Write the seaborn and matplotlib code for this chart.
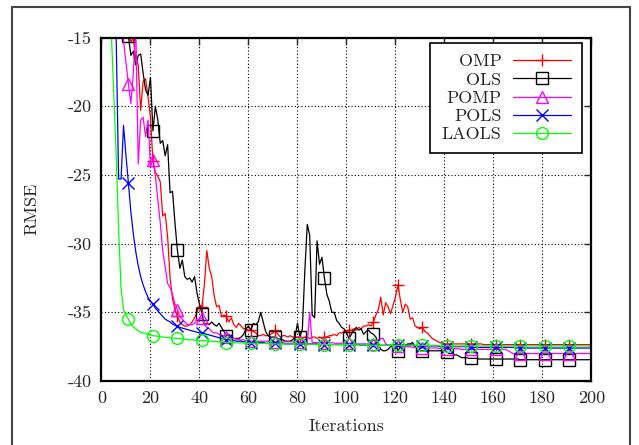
import matplotlib
matplotlib.use("Agg")
import matplotlib.pyplot as plt
import seaborn as sns
from matplotlib.patches import Rectangle

# iteration index (1..200)
iterations = list(range(1, 201))

omp = [
    -2.0, -4.5, -6.5, -8.0, -9.5, -10.5, -11.5, -12.5, -13.3, -14.0,
    -14.6, -15.3, -15.1, -16.5, -17.0, -20.3, -18.2, -18.0, -19.3, -20.8,
    -24.0, -24.8, -25.1, -25.5, -28.0, -27.8, -29.5, -32.5, -34.0, -34.8,
    -35.3, -35.7, -35.9, -36.0, -36.0, -35.9, -35.7, -35.4, -35.0, -34.5,
    -34.6, -33.0, -30.5, -31.8, -32.4, -33.8, -34.6, -34.5, -35.3, -35.2,
    -35.3, -35.7, -35.4, -35.9, -36.1, -35.8, -36.0, -36.2, -36.2, -36.3,
    -36.3, -36.4, -36.5, -36.7, -36.7, -36.6, -36.7, -36.7, -36.6, -36.5,
    -36.3, -36.6, -36.8, -36.7, -36.7, -36.8, -36.7, -36.8, -36.8, -36.8,
    -36.8, -36.9, -36.8, -36.8, -36.9, -36.8, -36.8, -36.9, -36.8, -36.9,
    -36.8, -36.8, -36.7, -36.7, -36.6, -36.7, -36.5, -36.5, -36.4, -36.5,
    -36.3, -36.3, -36.2, -36.3, -36.1, -36.2, -36.0, -36.0, -35.9, -36.0,
    -35.7, -35.2, -34.8, -33.9, -35.2, -34.3, -34.6, -35.1, -34.5, -33.9,
    -33.0, -34.1, -35.0, -34.4, -34.6, -35.5, -35.4, -36.0, -36.1, -36.2,
    -36.1, -36.4, -36.5, -36.7, -36.9, -37.0, -37.1, -37.2, -37.25, -37.3,
    -37.3, -37.3, -37.3, -37.3, -37.3, -37.3, -37.3, -37.3, -37.3, -37.3,
    -37.3, -37.3, -37.3, -37.3, -37.3, -37.35, -37.35, -37.35, -37.35, -37.35,
    -37.35, -37.35, -37.35, -37.35, -37.35, -37.35, -37.35, -37.35, -37.35, -37.35,
    -37.35, -37.35, -37.35, -37.35, -37.35, -37.35, -37.35, -37.35, -37.35, -37.35,
    -37.35, -37.35, -37.35, -37.35, -37.35, -37.35, -37.35, -37.35, -37.35, -37.35,
    -37.35, -37.35, -37.35, -37.35, -37.35, -37.35, -37.35, -37.35, -37.35, -37.35,
]

ols = [
    -3.0, -5.0, -7.0, -8.5, -10.0, -11.0, -12.0, -13.0, -13.8, -14.5,
    -14.9, -16.3, -16.0, -17.0, -16.3, -16.2, -17.6, -18.8, -19.2, -17.9,
    -21.8, -20.0, -21.0, -22.7, -22.5, -23.6, -22.8, -26.3, -26.2, -28.5,
    -30.5, -31.8, -31.2, -32.4, -32.6, -32.5, -32.8, -32.4, -33.6, -34.4,
    -35.1, -35.9, -35.8, -35.9, -35.7, -35.9, -36.0, -35.8, -36.1, -36.4,
    -36.7, -36.6, -36.8, -36.9, -36.9, -36.9, -36.8, -36.6, -36.2, -36.0,
    -36.3, -35.8, -35.9, -35.7, -35.0, -35.7, -36.4, -36.7, -36.8, -36.8,
    -36.8, -36.9, -37.0, -37.0, -37.1, -37.1, -37.1, -37.0, -36.8, -35.8,
    -36.8, -36.2, -32.0, -28.6, -29.4, -35.2, -35.4, -29.8, -31.5, -31.0,
    -32.5, -33.7, -34.2, -35.0, -35.0, -35.6, -35.8, -36.1, -36.2, -36.5,
    -36.9, -36.6, -36.3, -36.1, -36.3, -36.2, -36.6, -36.4, -36.3, -36.5,
    -36.6, -36.8, -37.3, -37.7, -37.8, -37.8, -37.7, -37.5, -37.4, -37.3,
    -37.8, -37.5, -37.4, -37.4, -37.3, -37.3, -37.2, -37.5, -37.7, -37.8,
    -37.8, -37.8, -37.8, -37.8, -37.8, -37.8, -37.8, -37.8, -37.8, -37.8,
    -37.9, -38.0, -38.0, -38.1, -38.1, -38.2, -38.3, -38.3, -38.3, -38.35,
    -38.35, -38.35, -38.35, -38.4, -38.4, -38.4, -38.4, -38.4, -38.4, -38.4,
    -38.4, -38.4, -38.4, -38.4, -38.4, -38.4, -38.4, -38.4, -38.4, -38.4,
    -38.45, -38.45, -38.45, -38.45, -38.45, -38.45, -38.45, -38.45, -38.45, -38.45,
    -38.45, -38.45, -38.45, -38.45, -38.45, -38.45, -38.45, -38.45, -38.45, -38.45,
    -38.45, -38.45, -38.45, -38.45, -38.45, -38.45, -38.45, -38.45, -38.45, -38.45,
]

pomp = [
    -2.0, -4.0, -6.0, -8.0, -9.5, -10.5, -11.5, -12.8, -15.3, -16.8,
    -18.4, -19.8, -17.6, -14.0, -24.2, -21.0, -20.8, -22.2, -21.0, -24.4,
    -23.9, -25.1, -26.8, -28.5, -30.5, -31.7, -32.9, -33.2, -33.7, -34.4,
    -34.8, -35.3, -35.5, -35.7, -35.9, -35.9, -35.9, -35.8, -35.5, -35.5,
    -35.4, -35.9, -36.1, -36.2, -36.4, -36.5, -36.5, -36.6, -36.7, -36.7,
    -36.8, -36.85, -36.9, -36.9, -36.95, -37.0, -37.0, -37.0, -37.05, -37.05,
    -37.1, -37.1, -37.1, -37.1, -37.1, -37.1, -37.1, -37.1, -37.15, -37.15,
    -37.15, -37.15, -37.15, -37.15, -37.15, -37.15, -37.15, -37.15, -37.15, -37.15,
    -37.15, -37.2, -37.2, -37.2, -35.0, -37.2, -37.2, -37.2, -37.2, -37.2,
    -37.2, -37.2, -37.2, -37.2, -37.25, -37.25, -37.25, -37.25, -37.25, -37.25,
    -37.25, -37.25, -37.25, -37.3, -37.3, -37.3, -37.3, -37.3, -37.3, -37.3,
    -37.3, -37.3, -37.1, -36.9, -36.9, -37.3, -37.4, -37.4, -37.4, -37.45,
    -37.45, -37.45, -37.5, -37.5, -37.5, -37.5, -37.55, -37.55, -37.55, -37.6,
    -37.6, -37.6, -37.6, -37.6, -37.6, -37.6, -37.6, -37.65, -37.65, -37.65,
    -37.65, -37.65, -37.65, -37.65, -37.65, -37.65, -37.7, -37.7, -37.7, -37.7,
    -37.7, -37.7, -37.7, -37.7, -37.7, -37.7, -37.7, -37.7, -37.7, -37.7,
    -37.7, -37.7, -37.7, -37.7, -37.7, -37.8, -37.9, -38.0, -38.0, -38.0,
    -38.0, -38.0, -38.0, -38.0, -38.0, -38.0, -38.0, -38.0, -38.0, -38.0,
    -38.0, -38.0, -38.0, -38.0, -38.0, -38.0, -38.0, -38.0, -38.0, -38.0,
    -38.0, -38.0, -38.0, -38.0, -38.0, -38.0, -38.0, -38.0, -38.0, -38.0,
]

pols = [
    -1.0, -3.0, -5.5, -8.0, -11.0, -15.0, -25.3, -25.3, -21.4, -23.6,
    -25.6, -27.7, -29.3, -30.6, -31.6, -32.4, -33.0, -33.5, -33.9, -34.2,
    -34.4, -34.7, -34.9, -35.1, -35.3, -35.5, -35.6, -35.7, -35.85, -35.95,
    -36.0, -36.1, -36.15, -36.2, -36.25, -36.3, -36.35, -36.4, -36.45, -36.5,
    -36.5, -36.55, -36.6, -36.65, -36.7, -36.75, -36.8, -36.85, -36.9, -36.95,
    -37.0, -37.0, -37.05, -37.05, -37.1, -37.1, -37.1, -37.15, -37.15, -37.15,
    -37.2, -37.2, -37.2, -37.2, -37.2, -37.2, -37.25, -37.25, -37.25, -37.25,
    -37.25, -37.25, -37.25, -37.25, -37.3, -37.3, -37.3, -37.3, -37.3, -37.3,
    -37.3, -37.3, -37.3, -37.3, -37.3, -37.3, -37.3, -37.3, -37.35, -37.35,
    -37.35, -37.35, -37.35, -37.35, -37.35, -37.35, -37.35, -37.35, -37.35, -37.35,
    -37.35, -37.35, -37.35, -37.35, -37.35, -37.4, -37.4, -37.4, -37.4, -37.4,
    -37.4, -37.4, -37.4, -37.4, -37.4, -37.4, -37.4, -37.4, -37.4, -37.4,
    -37.4, -37.4, -37.4, -37.4, -37.4, -37.35, -37.4, -37.45, -37.45, -37.45,
    -37.45, -37.45, -37.45, -37.45, -37.45, -37.45, -37.45, -37.5, -37.5, -37.5,
    -37.5, -37.5, -37.5, -37.5, -37.5, -37.5, -37.5, -37.5, -37.5, -37.5,
    -37.55, -37.55, -37.55, -37.55, -37.55, -37.55, -37.55, -37.55, -37.55, -37.55,
    -37.55, -37.55, -37.55, -37.55, -37.55, -37.55, -37.55, -37.55, -37.6, -37.6,
    -37.6, -37.6, -37.6, -37.6, -37.6, -37.6, -37.6, -37.6, -37.6, -37.6,
    -37.6, -37.6, -37.6, -37.6, -37.6, -37.6, -37.6, -37.6, -37.6, -37.6,
    -37.6, -37.6, -37.6, -37.6, -37.6, -37.6, -37.6, -37.6, -37.6, -37.6,
]

laols = [
    -0.5, -3.0, -8.0, -14.6, -19.0, -23.5, -29.0, -33.3, -34.8, -35.2,
    -35.5, -35.85, -36.05, -36.2, -36.35, -36.45, -36.5, -36.55, -36.6, -36.65,
    -36.7, -36.72, -36.75, -36.78, -36.8, -36.82, -36.84, -36.86, -36.88, -36.9,
    -36.9, -36.92, -36.94, -36.96, -36.98, -37.0, -37.0, -37.02, -37.04, -37.05,
    -37.05, -37.07, -37.08, -37.1, -37.1, -37.12, -37.14, -37.15, -37.16, -37.18,
    -37.2, -37.2, -37.2, -37.2, -37.22, -37.22, -37.22, -37.24, -37.24, -37.25,
    -37.25, -37.25, -37.25, -37.26, -37.26, -37.27, -37.27, -37.28, -37.28, -37.29,
    -37.3, -37.3, -37.3, -37.3, -37.3, -37.3, -37.3, -37.3, -37.3, -37.3,
    -37.3, -37.3, -37.31, -37.31, -37.32, -37.32, -37.33, -37.33, -37.34, -37.34,
    -37.35, -37.35, -37.35, -37.35, -37.35, -37.35, -37.35, -37.35, -37.35, -37.35,
    -37.35, -37.36, -37.36, -37.37, -37.37, -37.38, -37.38, -37.39, -37.39, -37.4,
    -37.4, -37.4, -37.4, -37.4, -37.4, -37.4, -37.4, -37.4, -37.4, -37.4,
    -37.4, -37.4, -37.4, -37.4, -37.4, -37.4, -37.4, -37.4, -37.4, -37.4,
    -37.4, -37.41, -37.41, -37.42, -37.42, -37.43, -37.43, -37.44, -37.44, -37.45,
    -37.45, -37.45, -37.45, -37.45, -37.45, -37.45, -37.45, -37.45, -37.45, -37.45,
    -37.45, -37.45, -37.45, -37.45, -37.45, -37.45, -37.45, -37.45, -37.45, -37.45,
    -37.45, -37.45, -37.45, -37.45, -37.45, -37.45, -37.45, -37.45, -37.45, -37.45,
    -37.45, -37.45, -37.45, -37.45, -37.45, -37.45, -37.45, -37.45, -37.45, -37.45,
    -37.45, -37.45, -37.45, -37.45, -37.45, -37.45, -37.45, -37.45, -37.45, -37.45,
    -37.45, -37.45, -37.45, -37.45, -37.45, -37.45, -37.45, -37.45, -37.45, -37.45,
]

names = ["OMP", "OLS", "POMP", "POLS", "LAOLS"]
series = [omp, ols, pomp, pols, laols]
colors = ["#ff0000", "#000000", "#ff00ff", "#0000ff", "#00ff00"]
markers = ["+", "s", "^", "x", "o"]

sns.set_style("white")
plt.rcParams["font.family"] = ["cmr10", "DejaVu Serif"]
plt.rcParams["axes.unicode_minus"] = False
plt.rcParams["mathtext.fontset"] = "cm"

fig = plt.figure(figsize=(6.39, 4.45), dpi=100)
ax = fig.add_axes([0.1588, 0.1438, 0.7668, 0.7719])

for name, vals, c, m in zip(names, series, colors, markers):
    sns.lineplot(x=iterations, y=vals, ax=ax, color=c, linewidth=0.9,
                 marker=m, markevery=10, markersize=8.5,
                 markerfacecolor="none", markeredgecolor=c, markeredgewidth=1.0,
                 label=name, errorbar=None, sort=False)

ax.set_xlim(0, 200)
ax.set_ylim(-40, -15)
ax.set_xticks(range(0, 201, 20))
ax.set_yticks(range(-40, -14, 5))
ax.tick_params(direction="in", top=True, right=True, length=5, width=1,
               labelsize=13, pad=7)
ax.grid(True, color="black", linestyle=(0, (1, 2)), linewidth=0.8)
ax.set_axisbelow(True)
for sp in ax.spines.values():
    sp.set_linewidth(1.6)
    sp.set_color("black")

ax.set_xlabel("Iterations", fontsize=13, labelpad=9)
ax.set_ylabel("RMSE", fontsize=13, labelpad=20)

handles, labels = ax.get_legend_handles_labels()
leg = ax.legend(handles, labels, loc="upper right", bbox_to_anchor=(0.981, 0.985),
                borderaxespad=0, markerfirst=False, frameon=True, fancybox=False,
                edgecolor="black", framealpha=1, fontsize=13, handlelength=3.2,
                handletextpad=0.65, labelspacing=0.14, borderpad=0.62)
leg.get_frame().set_linewidth(1.2)

# outer box of the original page
fig.add_artist(Rectangle((12 / 639, -0.05), 618 / 639, 1.035, transform=fig.transFigure,
                         fill=False, edgecolor="#444444", linewidth=1.5))

fig.savefig("out.png", dpi=100)
